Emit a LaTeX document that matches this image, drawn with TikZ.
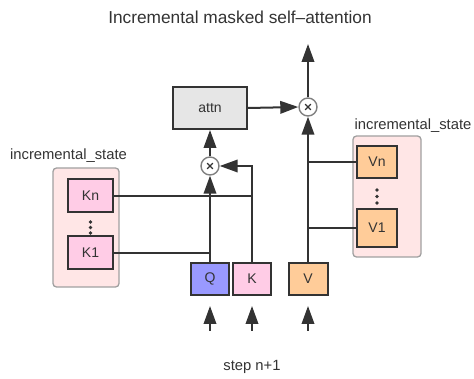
\documentclass[tikz,border=0pt]{standalone}
\usepackage{fontspec}
\setmainfont{Liberation Sans}
\usetikzlibrary{arrows.meta}
\definecolor{txt}{HTML}{333333}
\definecolor{edge}{HTML}{333333}
\definecolor{qcol}{HTML}{9999FF}
\definecolor{kcol}{HTML}{FFCCE6}
\definecolor{vcol}{HTML}{FFCC99}
\definecolor{acol}{HTML}{E6E6E6}
\definecolor{scol}{HTML}{FFE6E6}
\definecolor{sborder}{HTML}{A0A0A0}
\definecolor{opborder}{HTML}{808080}
\tikzset{
  box/.style={draw=edge, line width=2pt, inner sep=0pt, text=txt, font=\fontsize{14}{15}\selectfont},
  statebox/.style={draw=sborder, fill=scol, rounded corners=3.5pt, line width=1.3pt},
  op/.style={circle, draw=opborder, fill=white, line width=1.4pt, minimum size=18pt, inner sep=0pt,
    path picture={\draw[line width=1.4pt, edge] ([shift={(-2.8pt,-2.8pt)}]path picture bounding box.center) -- ([shift={(2.8pt,2.8pt)}]path picture bounding box.center);
                  \draw[line width=1.4pt, edge] ([shift={(-2.8pt,2.8pt)}]path picture bounding box.center) -- ([shift={(2.8pt,-2.8pt)}]path picture bounding box.center);}},
  arr/.style={draw=edge, line width=2pt, -{Triangle[length=18pt,width=12.5pt]}},
  ln/.style={draw=edge, line width=2pt},
  lbl/.style={text=txt, font=\fontsize{14.8}{16}\selectfont},
  vdot/.style={circle, fill=edge, inner sep=0pt, minimum size=3.6pt},
}
\begin{document}
\begin{tikzpicture}[x=1pt,y=-1pt]
\useasboundingbox (0,0) rectangle (474,379);
% title
\node[lbl, font=\fontsize{17.3}{18}\selectfont] (title) at (240,17) {Incremental masked self–attention};
% state containers
\node[statebox, minimum width=66pt, minimum height=119pt] (lstate) at (86,227.5) {};
\node[statebox, minimum width=68pt, minimum height=121pt] (rstate) at (387,196.5) {};
\node[lbl] (llbl) at (68.5,156) {incremental\_state};
\node[lbl] (rlbl) at (413,126) {incremental\_state};
% K cache
\node[box, fill=kcol, minimum width=45pt, minimum height=33pt] (Kn) at (90.5,196) {Kn};
\node[box, fill=kcol, minimum width=45pt, minimum height=33pt] (K1) at (90.5,253) {K1};
\node[vdot] (ld1) at (90.5,222) {};
\node[vdot] (ld2) at (90.5,227.5) {};
\node[vdot] (ld3) at (90.5,233) {};
% V cache
\node[box, fill=vcol, minimum width=40pt, minimum height=32pt] (Vn) at (377,162) {Vn};
\node[box, fill=vcol, minimum width=40pt, minimum height=38pt] (V1) at (377,228) {V1};
\node[vdot] (rd1) at (377,190) {};
\node[vdot] (rd2) at (377,196.5) {};
\node[vdot] (rd3) at (377,203) {};
% inputs
\node[box, fill=qcol, minimum width=38pt, minimum height=32pt] (Q) at (210,279) {Q};
\node[box, fill=kcol, minimum width=38pt, minimum height=32pt] (K) at (252,279) {K};
\node[box, fill=vcol, minimum width=39pt, minimum height=32pt] (V) at (308,279) {V};
% ops
\node[box, fill=acol, minimum width=74pt, minimum height=42pt] (attn) at (210,108) {attn};
\node[op] (mulL) at (210,166) {};
\node[op] (mulU) at (308,107) {};
% free ends
\coordinate (out) at (308,44);
\coordinate (qin) at (210,331);
\coordinate (kin) at (252,331);
\coordinate (vin) at (308,331);
\node[lbl] (step) at (252,367) {step n+1};
% connectors
\draw[ln] (Kn.east) -- (Kn.east -| K.north);
\draw[ln] (K1.east) -- (K1.east -| Q.north);
\draw[arr] (K.north) |- (mulL.east);
\draw[arr] (Q.north) -- (mulL.south);
\draw[arr] (mulL.north) -- (attn.south);
\draw[arr] (attn.east) -- (mulU.west);
\draw[ln] (Vn.west) -- (Vn.west -| V.north);
\draw[ln] (V1.west) -- (V1.west -| V.north);
\draw[arr] (V.north) -- (mulU.south);
\draw[arr] (mulU.north) -- (out);
\draw[arr, shorten >=10pt] (qin) -- (Q.south);
\draw[arr, shorten >=10pt] (kin) -- (K.south);
\draw[arr, shorten >=10pt] (vin) -- (V.south);
\end{tikzpicture}
\end{document}
